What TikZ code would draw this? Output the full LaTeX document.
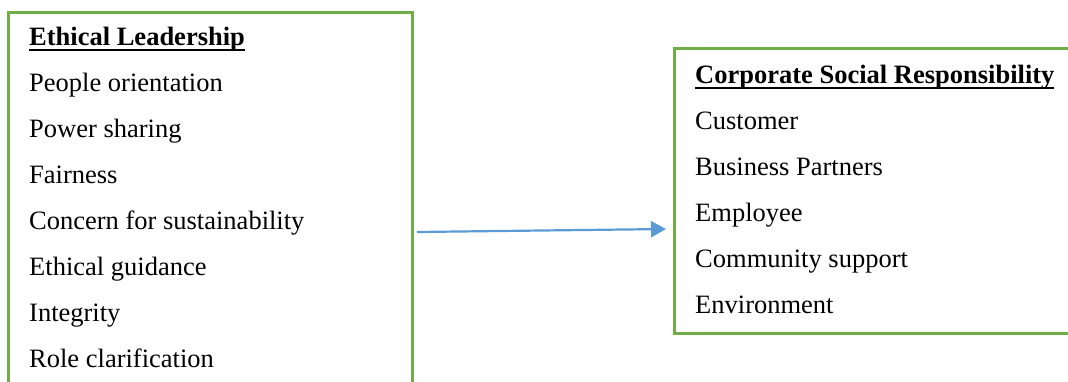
\documentclass[tikz,border=0pt]{standalone}
\usepackage{fontspec}
\setmainfont{Liberation Serif}
\newcommand{\myul}[1]{\setbox0=\hbox{#1}\rlap{\rule[-6pt]{\wd0}{2.2pt}}\box0}
\usetikzlibrary{arrows.meta}
\definecolor{boxgreen}{HTML}{70AD47}
\definecolor{arrowblue}{HTML}{5B9BD5}
\begin{document}
\begin{tikzpicture}[x=1pt,y=-1pt,
  box/.style={draw=boxgreen, line width=2.6pt, inner sep=0pt, anchor=north west},
  item/.style={anchor=base west, inner sep=0pt, font=\fontsize{26.5}{30}\selectfont},
  head/.style={item, font=\fontsize{26.5}{30}\selectfont\bfseries},
  link/.style={draw=arrowblue, line width=2.2pt, -{Triangle[length=15pt,width=16pt]}}]
\useasboundingbox (0,0) rectangle (1068,381);
\clip (0,0) rectangle (1068,381);
\node[box, minimum width=404pt, minimum height=420pt] (lbox) at (7,11) {};
\node[box, minimum width=440pt, minimum height=285pt] (rbox) at (673,47) {};
\node[head] (l0) at (29,45) {\myul{Ethical Leadership}};
\node[item] (l1) at (29,91) {People orientation};
\node[item] (l2) at (29,137) {Power sharing};
\node[item] (l3) at (29,183) {Fairness};
\node[item] (l4) at (29,229) {Concern for sustainability};
\node[item] (l5) at (29,275) {Ethical guidance};
\node[item] (l6) at (29,321) {Integrity};
\node[item] (l7) at (29,367) {Role clarification};
\node[head] (r0) at (695,83) {\myul{Corporate Social Responsibility}};
\node[item] (r1) at (695,129) {Customer};
\node[item] (r2) at (695,175) {Business Partners};
\node[item] (r3) at (695,221) {Employee};
\node[item] (r4) at (695,267) {Community support};
\node[item] (r5) at (695,313) {Environment};
\coordinate (a1) at (417,232);
\coordinate (a2) at (666,229);
\draw[link] (a1) -- (a2);
\end{tikzpicture}
\end{document}
